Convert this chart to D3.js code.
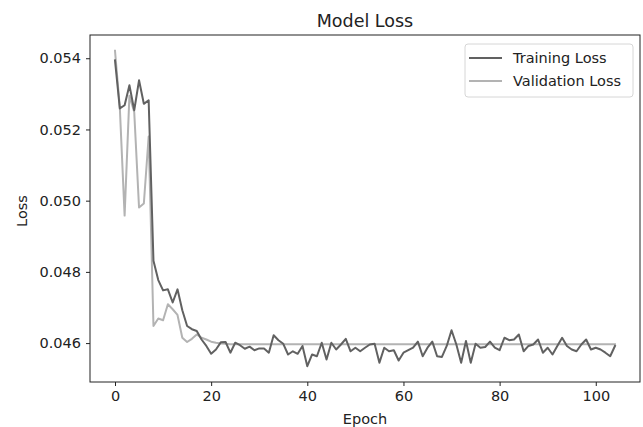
<!DOCTYPE html>
<html>
<head>
<meta charset="utf-8">
<script src="https://cdn.jsdelivr.net/npm/d3@7"></script>
<style>
  html, body { margin: 0; padding: 0; background: #fff; }
  svg { display: block; }
  text { font-family: "DejaVu Sans", sans-serif; fill: #222; }
</style>
</head>
<body>
<svg id="chart" width="643" height="427"></svg>
<script>
const trainingLoss = [
  0.05394, 0.05259, 0.05268, 0.05324, 0.05254, 0.05338, 0.05272, 0.05282, 0.04831, 0.04777,
  0.04748, 0.04751, 0.04714, 0.04751, 0.04692, 0.04648, 0.04639, 0.04634, 0.04610, 0.04592,
  0.04570, 0.04582, 0.04602, 0.04603, 0.04573, 0.04601, 0.04594, 0.04584, 0.04590, 0.04580,
  0.04585, 0.04585, 0.04573, 0.04622, 0.04608, 0.04598, 0.04568, 0.04577, 0.04570, 0.04592,
  0.04535, 0.04568, 0.04563, 0.04601, 0.04554, 0.04601, 0.04582, 0.04596, 0.04612, 0.04577,
  0.04587, 0.04577, 0.04587, 0.04596, 0.04598, 0.04545, 0.04587, 0.04577, 0.04580, 0.04551,
  0.04573, 0.04580, 0.04587, 0.04604, 0.04563, 0.04587, 0.04604, 0.04563, 0.04561, 0.04592,
  0.04636, 0.04596, 0.04545, 0.04606, 0.04545, 0.04598, 0.04587, 0.04589, 0.04604, 0.04587,
  0.04580, 0.04615, 0.04608, 0.04610, 0.04624, 0.04577, 0.04592, 0.04596, 0.04610, 0.04573,
  0.04587, 0.04568, 0.04592, 0.04615, 0.04592, 0.04582, 0.04577, 0.04596, 0.04610, 0.04582,
  0.04587, 0.04582, 0.04573, 0.04563, 0.04592
];
const validationLoss = [
  0.05421, 0.05262, 0.04958, 0.05295, 0.05249, 0.04981, 0.04992, 0.05180, 0.04648, 0.04669,
  0.04664, 0.04709, 0.04695, 0.04679, 0.04615, 0.04603, 0.04612, 0.04624, 0.04615, 0.04610,
  0.04604, 0.04601, 0.04599, 0.04598, 0.04597, 0.04597, 0.04597, 0.04597, 0.04597, 0.04597,
  0.04597, 0.04597, 0.04597, 0.04597, 0.04597, 0.04597, 0.04597, 0.04597, 0.04597, 0.04597,
  0.04597, 0.04597, 0.04597, 0.04597, 0.04597, 0.04597, 0.04597, 0.04597, 0.04597, 0.04597,
  0.04597, 0.04597, 0.04597, 0.04597, 0.04597, 0.04597, 0.04597, 0.04597, 0.04597, 0.04597,
  0.04597, 0.04597, 0.04597, 0.04597, 0.04597, 0.04597, 0.04597, 0.04597, 0.04597, 0.04597,
  0.04597, 0.04597, 0.04597, 0.04597, 0.04597, 0.04597, 0.04597, 0.04597, 0.04597, 0.04597,
  0.04597, 0.04597, 0.04597, 0.04597, 0.04597, 0.04597, 0.04597, 0.04597, 0.04597, 0.04597,
  0.04597, 0.04597, 0.04597, 0.04597, 0.04597, 0.04597, 0.04597, 0.04597, 0.04597, 0.04597,
  0.04597, 0.04597, 0.04597, 0.04597, 0.04597
];
const xTicks = [0, 20, 40, 60, 80, 100];
const yTicks = [0.046, 0.048, 0.050, 0.052, 0.054];
const seriesNames = ["Training Loss", "Validation Loss"];
const titleText = "Model Loss";
const xLabel = "Epoch";
const yLabel = "Loss";

const svg = d3.select("#chart");
const mLeft = 90, mRight = 640, mTop = 35, mBottom = 382;
const colors = ["#616161", "#b3b3b3"];
const fs = "14.5px";

const n = trainingLoss.length;
const xPad = (n - 1) * 0.05;
const x = d3.scaleLinear().domain([-xPad, n - 1 + xPad]).range([mLeft, mRight]);
const all = trainingLoss.concat(validationLoss);
const yMin = d3.min(all), yMax = d3.max(all);
const yPad = (yMax - yMin) * 0.05;
const y = d3.scaleLinear().domain([yMin - yPad, yMax + yPad]).range([mBottom, mTop]);

// axes
const xAxis = d3.axisBottom(x).tickValues(xTicks).tickSize(4).tickPadding(5).tickFormat(d3.format("d"));
const yAxis = d3.axisLeft(y).tickValues(yTicks).tickSize(4).tickPadding(5).tickFormat(d3.format(".3f"));

const gx = svg.append("g").attr("transform", `translate(0,${mBottom})`).call(xAxis);
const gy = svg.append("g").attr("transform", `translate(${mLeft},0)`).call(yAxis);
[gx, gy].forEach(g => {
  g.select(".domain").remove();
  g.selectAll(".tick line").attr("stroke", "#222").attr("stroke-width", 1);
  g.selectAll(".tick text").style("font-size", fs).style("font-family", "DejaVu Sans, sans-serif").attr("fill", "#222");
});

// lines
const line = d3.line().x((d, i) => x(i)).y(d => y(d));
const lines = svg.append("g");
[validationLoss, trainingLoss].forEach((s) => {
  const k = s === trainingLoss ? 0 : 1;
  lines.append("path").datum(s).attr("d", line)
    .attr("fill", "none").attr("stroke", colors[k]).attr("stroke-width", 2)
    .attr("stroke-linejoin", "round").attr("stroke-linecap", "square");
});

// frame
svg.append("rect").attr("x", mLeft).attr("y", mTop).attr("width", mRight - mLeft).attr("height", mBottom - mTop)
  .attr("fill", "none").attr("stroke", "#222").attr("stroke-width", 1);

// title & labels
svg.append("text").attr("x", (mLeft + mRight) / 2).attr("y", 27).attr("text-anchor", "middle")
  .style("font-size", "17.5px").text(titleText);
svg.append("text").attr("x", (mLeft + mRight) / 2).attr("y", 424).attr("text-anchor", "middle")
  .style("font-size", fs).text(xLabel);
svg.append("text").attr("transform", `translate(27,211) rotate(-90)`).attr("text-anchor", "middle")
  .style("font-size", fs).text(yLabel);

// legend
const lg = svg.append("g");
lg.append("rect").attr("x", 465).attr("y", 44).attr("width", 168).attr("height", 53).attr("rx", 3)
  .attr("fill", "#fff").attr("fill-opacity", 0.8).attr("stroke", "#d6d6d6").attr("stroke-width", 1);
seriesNames.forEach((name, k) => {
  const yy = 58 + k * 23;
  lg.append("line").attr("x1", 469).attr("x2", 502).attr("y1", yy).attr("y2", yy)
    .attr("stroke", colors[k]).attr("stroke-width", 2);
  lg.append("text").attr("x", 513).attr("y", yy + 5).style("font-size", fs).text(name);
});
</script>
</body>
</html>
